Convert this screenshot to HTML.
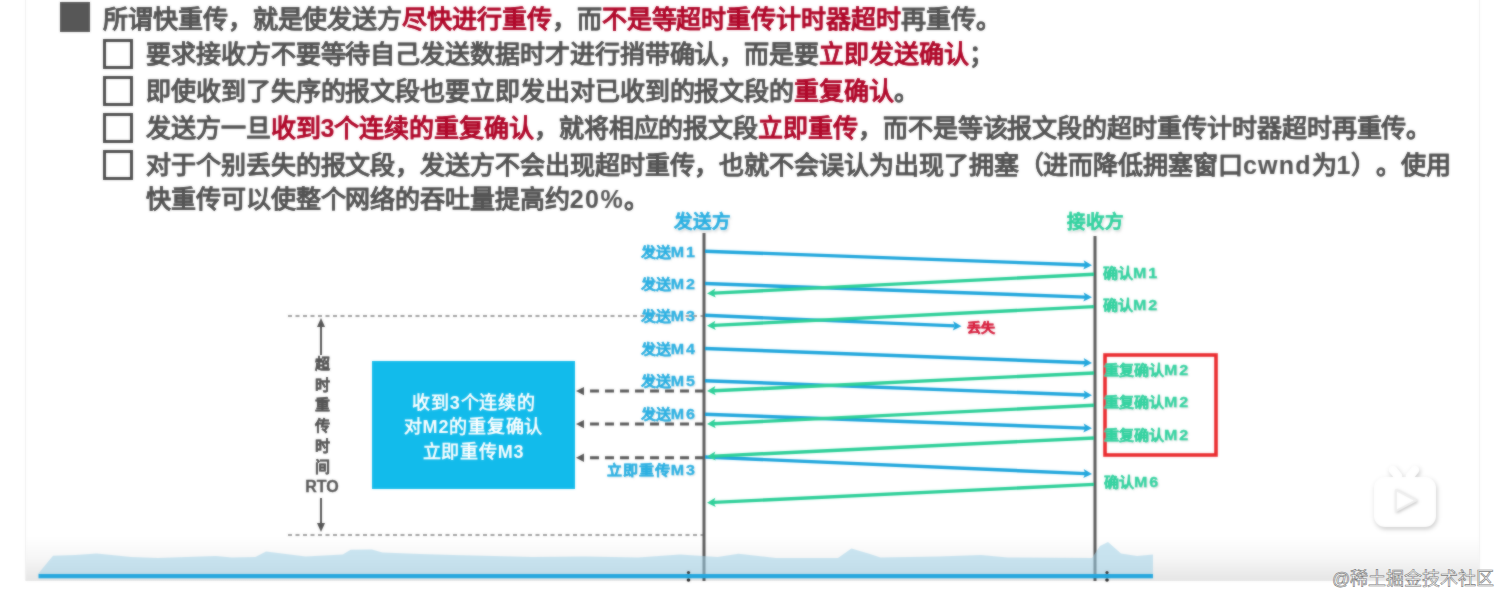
<!DOCTYPE html>
<html lang="zh-CN">
<head>
<meta charset="utf-8">
<style>
html,body{margin:0;padding:0;background:#fff;}
body{width:1512px;height:607px;position:relative;overflow:hidden;font-family:"Liberation Sans",sans-serif;text-spacing-trim:space-all;}
.wrap{position:absolute;left:0;top:0;width:1512px;height:607px;filter:url(#soft);}
.frame{position:absolute;left:25px;top:-2px;width:1453px;height:583px;background:#fff;border-left:1px solid #efefef;border-right:1px solid #efefef;}
.grad{position:absolute;left:26px;top:536px;width:1453px;height:45px;background:linear-gradient(rgba(0,0,0,0),rgba(0,0,0,.035) 50%,rgba(0,0,0,.1));}
.row{position:absolute;white-space:nowrap;font-size:25px;letter-spacing:-0.07px;font-weight:bold;color:#545454;line-height:30px;-webkit-text-stroke-width:0.1px;}
.r{color:#b0082a;}
.cb{position:absolute;left:103px;width:24px;height:24px;border:3px solid #505050;}
.bul{position:absolute;left:60px;top:2px;width:30px;height:30px;background:#575757;}
.box{position:absolute;left:372px;top:361px;width:203px;height:128px;background:#12bbeb;color:#fff;font-size:18px;font-weight:bold;line-height:24.3px;letter-spacing:0.8px;text-align:center;box-sizing:border-box;padding-top:30px;text-indent:1px;}
.rto{position:absolute;left:302px;top:354px;width:40px;text-align:center;color:#555;font-size:15px;font-weight:bold;line-height:20.55px;-webkit-text-stroke:0.3px #555;}
.rto span{font-size:16px;}
.ttl{position:absolute;font-size:18.5px;font-weight:bold;line-height:24px;white-space:nowrap;text-shadow:0 0 3px #fff,1px 2px 3px rgba(0,0,0,.2) !important;}
.lb{position:absolute;font-size:15px;font-weight:900;line-height:18px;white-space:nowrap;transform:scaleY(.9);}
.lt{font-size:16px;font-weight:bold;letter-spacing:2px;}
.b{color:#2cb0e2;-webkit-text-stroke:0.35px #2cb0e2;text-shadow:0 0 2px #fff,1px 1px 2px rgba(0,0,0,.15);}
.g{color:#34d2a0;-webkit-text-stroke:0.35px #34d2a0;text-shadow:0 0 2px #fff,1px 1px 2px rgba(0,0,0,.2);}
.rd{color:#d8203f;-webkit-text-stroke:0.4px #d8203f;text-shadow:0 0 2px #fff,1px 1px 2px rgba(0,0,0,.15);}
.wm{position:absolute;left:1332px;top:567px;font-size:18px;line-height:24px;color:#fafafa;white-space:nowrap;-webkit-text-stroke:0.6px #7d7d7d;}
</style>
</head>
<body><svg width="0" height="0" style="position:absolute"><filter id="soft" x="0" y="0" width="100%" height="100%" color-interpolation-filters="sRGB"><feGaussianBlur in="SourceGraphic" stdDeviation="1" result="b"/><feComposite in="SourceGraphic" in2="b" operator="arithmetic" k1="0" k2="0.45" k3="0.55" k4="0"/></filter></svg><div class="wrap">
<div class="frame"></div>
<div class="bul"></div>
<div class="row" style="left:103px;top:4px">所谓快重传，就是使发送方<span class="r">尽快进行重传</span>，而<span class="r">不是等超时重传计时器超时</span>再重传。</div>
<div class="cb" style="top:39px"></div>
<div class="row" style="left:146px;top:39px">要求接收方不要等待自己发送数据时才进行捎带确认，而是要<span class="r">立即发送确认</span>；</div>
<div class="cb" style="top:76px"></div>
<div class="row" style="left:146px;top:76px">即使收到了失序的报文段也要立即发出对已收到的报文段的<span class="r">重复确认</span>。</div>
<div class="cb" style="top:113px"></div>
<div class="row" style="left:146px;top:113px">发送方一旦<span class="r">收到3个连续的重复确认</span>，就将相应的报文段<span class="r">立即重传</span>，而不是等该报文段的超时重传计时器超时再重传。</div>
<div class="cb" style="top:150px"></div>
<div class="row" style="left:146px;top:150px">对于个别丢失的报文段，发送方不会出现超时重传，也就不会误认为出现了拥塞（进而降低拥塞窗口<span style="letter-spacing:1.2px">cwnd</span>为<span style="letter-spacing:1px">1</span>）。使用</div>
<div class="row" style="left:146px;top:184px">快重传可以使整个网络的吞吐量提高约<span style="letter-spacing:1.4px">20%</span>。</div>
<svg width="1512" height="607" viewBox="0 0 1512 607" style="position:absolute;left:0;top:0"><line x1="288" y1="316" x2="704" y2="316" stroke="#a0a0a0" stroke-width="2" stroke-dasharray="4,3.5"/><line x1="288" y1="535" x2="704" y2="535" stroke="#a0a0a0" stroke-width="2" stroke-dasharray="4,3.5"/><line x1="704" y1="233" x2="704" y2="581" stroke="#5a5a5a" stroke-width="3"/><line x1="1095" y1="236" x2="1095" y2="581" stroke="#5a5a5a" stroke-width="3"/><line x1="705" y1="251.2" x2="1085.2" y2="265.0" stroke="#1fa6dc" stroke-width="3.4"/><path d="M1092.0,265.2 L1083.3,269.5 L1085.2,265.0 L1083.7,260.3 Z" fill="#1fa6dc"/><line x1="705" y1="283.5" x2="1085.2" y2="297.1" stroke="#1fa6dc" stroke-width="3.4"/><path d="M1092.0,297.3 L1083.3,301.6 L1085.2,297.1 L1083.7,292.4 Z" fill="#1fa6dc"/><line x1="705" y1="348.5" x2="1085.2" y2="362.7" stroke="#1fa6dc" stroke-width="3.4"/><path d="M1092.0,363.0 L1083.3,367.3 L1085.2,362.7 L1083.7,358.1 Z" fill="#1fa6dc"/><line x1="705" y1="380.7" x2="1085.2" y2="395.0" stroke="#1fa6dc" stroke-width="3.4"/><path d="M1092.0,395.3 L1083.3,399.6 L1085.2,395.0 L1083.7,390.4 Z" fill="#1fa6dc"/><line x1="705" y1="414.2" x2="1085.2" y2="428.1" stroke="#1fa6dc" stroke-width="3.4"/><path d="M1092.0,428.3 L1083.3,432.6 L1085.2,428.1 L1083.7,423.4 Z" fill="#1fa6dc"/><line x1="705" y1="457" x2="1085.2" y2="473.6" stroke="#1fa6dc" stroke-width="3.4"/><path d="M1092.0,473.9 L1083.3,478.1 L1085.2,473.6 L1083.7,468.9 Z" fill="#1fa6dc"/><line x1="705" y1="315.3" x2="954.7" y2="325.9" stroke="#1fa6dc" stroke-width="3.4"/><path d="M961.5,326.2 L952.8,330.4 L954.7,325.9 L953.2,321.2 Z" fill="#1fa6dc"/><line x1="1094" y1="274.3" x2="713.8" y2="293.1" stroke="#2ccf98" stroke-width="3.4"/><path d="M707.0,293.4 L715.3,288.4 L713.8,293.1 L715.7,297.6 Z" fill="#2ccf98"/><line x1="1094" y1="306.6" x2="713.8" y2="325.4" stroke="#2ccf98" stroke-width="3.4"/><path d="M707.0,325.7 L715.3,320.7 L713.8,325.4 L715.7,329.9 Z" fill="#2ccf98"/><line x1="1094" y1="373" x2="713.8" y2="390.8" stroke="#2ccf98" stroke-width="3.4"/><path d="M707.0,391.1 L715.3,386.1 L713.8,390.8 L715.7,395.3 Z" fill="#2ccf98"/><line x1="1094" y1="405.3" x2="713.8" y2="423.8" stroke="#2ccf98" stroke-width="3.4"/><path d="M707.0,424.1 L715.3,419.1 L713.8,423.8 L715.7,428.3 Z" fill="#2ccf98"/><line x1="1094" y1="438" x2="713.8" y2="456.1" stroke="#2ccf98" stroke-width="3.4"/><path d="M707.0,456.4 L715.3,451.4 L713.8,456.1 L715.7,460.6 Z" fill="#2ccf98"/><line x1="1094" y1="484.4" x2="713.8" y2="502.4" stroke="#2ccf98" stroke-width="3.4"/><path d="M707.0,502.7 L715.3,497.7 L713.8,502.4 L715.7,506.9 Z" fill="#2ccf98"/><line x1="704" y1="391.1" x2="583" y2="391.1" stroke="#585858" stroke-width="3" stroke-dasharray="9,6"/><path d="M576,391.1 L584,386.90000000000003 L584,395.3 Z" fill="#585858"/><line x1="704" y1="424.1" x2="583" y2="424.1" stroke="#585858" stroke-width="3" stroke-dasharray="9,6"/><path d="M576,424.1 L584,419.90000000000003 L584,428.3 Z" fill="#585858"/><line x1="704" y1="457.8" x2="583" y2="457.8" stroke="#585858" stroke-width="3" stroke-dasharray="9,6"/><path d="M576,457.8 L584,453.6 L584,462.0 Z" fill="#585858"/><line x1="321" y1="325" x2="321" y2="355" stroke="#555" stroke-width="2"/><path d="M321,318 L317,327 L325,327 Z" fill="#555"/><line x1="321" y1="498" x2="321" y2="524" stroke="#555" stroke-width="2"/><path d="M321,532 L317,523 L325,523 Z" fill="#555"/><rect x="1105" y="355" width="111" height="100" fill="none" stroke="#ea2a2e" stroke-width="3.6"/></svg>
<div class="box">收到3个连续的<br>对M2的重复确认<br>立即重传M3</div>
<div class="rto">超<br>时<br>重<br>传<br>时<br>间<br><span>RTO</span></div>
<div class="ttl b" style="left:674px;top:210px">发送方</div>
<div class="ttl g" style="left:1067px;top:210px">接收方</div>
<div class="lb b" style="right:815px;top:244px">发送<span class="lt">M1</span></div>
<div class="lb b" style="right:815px;top:276px">发送<span class="lt">M2</span></div>
<div class="lb b" style="right:815px;top:308px">发送<span class="lt">M3</span></div>
<div class="lb b" style="right:815px;top:341px">发送<span class="lt">M4</span></div>
<div class="lb b" style="right:815px;top:373px">发送<span class="lt">M5</span></div>
<div class="lb b" style="right:815px;top:406px">发送<span class="lt">M6</span></div>
<div class="lb b" style="right:815px;top:462px;letter-spacing:1px">立即重传<span class="lt">M3</span></div>
<div class="lb rd" style="left:967px;top:319px;font-size:14px">丢失</div>
<div class="lb g" style="left:1103px;top:265px">确认<span class="lt">M1</span></div>
<div class="lb g" style="left:1103px;top:297px">确认<span class="lt">M2</span></div>
<div class="lb g" style="left:1104px;top:362px">重复确认<span class="lt">M2</span></div>
<div class="lb g" style="left:1104px;top:394px">重复确认<span class="lt">M2</span></div>
<div class="lb g" style="left:1104px;top:427px">重复确认<span class="lt">M2</span></div>
<div class="lb g" style="left:1104px;top:474px">确认<span class="lt">M6</span></div>
<div class="grad"></div>
<svg width="1512" height="607" viewBox="0 0 1512 607" style="position:absolute;left:0;top:0"><path d="M38,574 L53,555.7 L75.5,555 L96.7,553.5 L131,557 L157.6,558 L215.8,556 L231.6,557.5 L255.4,557 L266,551.4 L289.8,554.6 L305.7,556.5 L342.7,554.5 L350.7,549.8 L371.9,549.5 L382.4,552.5 L420,554 L453,555 L532,557 L585,556.5 L638,557.5 L680,554.5 L717.5,557 L738.6,553.8 L775.7,558 L838,558 L851.4,548.5 L870,554 L880.5,557.5 L938.7,556.5 L981,555 L1007.5,557.5 L1092,558 L1100,546 L1108,542 L1121,553.5 L1137,556 L1153,554.5 L1153,574 Z" fill="rgba(160,210,232,0.55)"/><circle cx="688.5" cy="572.5" r="1.6" fill="#333"/><circle cx="688.5" cy="580" r="1.8" fill="#222"/><circle cx="1107" cy="572.5" r="1.6" fill="#333"/><circle cx="1107" cy="580" r="1.8" fill="#222"/><rect x="38.5" y="574" width="1114.5" height="4.3" fill="#24a7de"/></svg>
<svg width="80" height="80" viewBox="0 0 80 80" style="position:absolute;left:1364px;top:458px;filter:drop-shadow(1px 2px 2px rgba(0,0,0,.22))">
<path d="M29,12 L34,18 M51,12 L46,18" stroke="#fff" stroke-width="8.5" stroke-linecap="round"/>
<rect x="10" y="19" width="62" height="50" rx="11" fill="#fff"/>
<path d="M32,32 L32,53 L52,42.5 Z" fill="#fff" stroke="#eee" stroke-width="2" stroke-linejoin="round" style="filter:drop-shadow(1px 1px 1.5px rgba(0,0,0,.25))"/>
</svg>
</div><div class="wm">@稀土掘金技术社区</div></body>
</html>
